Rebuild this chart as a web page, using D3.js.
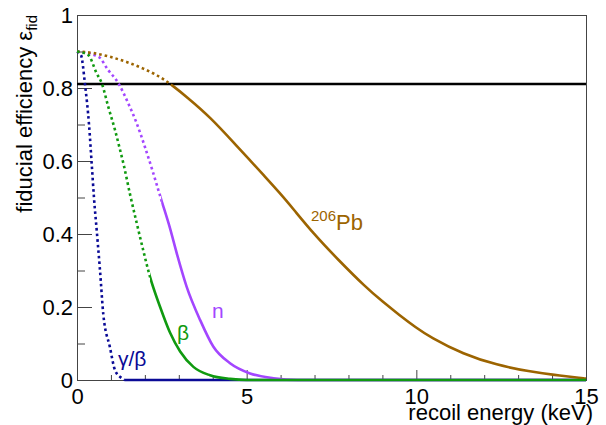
<!DOCTYPE html>
<html>
<head>
<meta charset="utf-8">
<script src="https://cdn.jsdelivr.net/npm/d3@7"></script>
<style>
    body { margin: 0; background: #fff; }
    svg text { font-family: "Liberation Sans", Arial, sans-serif; }
</style>
</head>
<body>
<svg id="chart" width="606" height="425"></svg>
<script>
// data (energy in keV, efficiency)
var gbEnergy = [0, 0.118, 0.236, 0.354, 0.442, 0.50, 0.59, 0.678, 0.775, 0.97, 1.12, 1.32, 1.41, 15];
var gbEff    = [0.9, 0.89, 0.81, 0.70, 0.58, 0.50, 0.40, 0.30, 0.18, 0.09, 0.027, 0.005, 0, 0];
var gbSolidFrom = 1.41;

var betaEnergy = [0, 0.333, 0.58, 0.73, 0.92, 1.12, 1.27, 1.385, 1.56, 1.76, 1.95, 2.15, 2.45, 2.74, 3.04, 3.43, 3.92, 4.51, 5.0, 15];
var betaEff    = [0.9, 0.89, 0.84, 0.813, 0.749, 0.685, 0.63, 0.586, 0.51, 0.43, 0.356, 0.283, 0.20, 0.13, 0.078, 0.036, 0.013, 0.003, 0, 0];
var betaSolidFrom = 2.15;

var nEnergy = [0, 0.628, 0.92, 1.22, 1.51, 1.76, 2.0, 2.22, 2.35, 2.48, 2.74, 2.94, 3.23, 3.63, 4.02, 4.51, 5.10, 5.79, 6.5, 15];
var nEff    = [0.9, 0.886, 0.849, 0.813, 0.758, 0.703, 0.639, 0.575, 0.535, 0.495, 0.416, 0.347, 0.256, 0.164, 0.091, 0.046, 0.018, 0.005, 0, 0];
var nSolidFrom = 2.48;

var pbEnergy = [0, 0.48, 0.97, 1.46, 1.95, 2.45, 2.8, 3.23, 3.92, 4.71, 5.10, 5.49, 5.98, 6.37, 6.96, 7.70, 8.5, 9.0, 9.5, 10.0, 10.4, 11.39, 12.37, 13.35, 14.04, 14.92, 15];
var pbEff    = [0.9, 0.897, 0.886, 0.872, 0.854, 0.831, 0.808, 0.776, 0.721, 0.641, 0.602, 0.562, 0.512, 0.469, 0.402, 0.329, 0.255, 0.215, 0.178, 0.143, 0.118, 0.070, 0.041, 0.023, 0.014, 0.005, 0.004];
var pbSolidFrom = 2.8;

var cutLevel = 0.811;

var xMajorTicks = [0, 5, 10, 15];
var xMinorTicks = [1, 2, 3, 4, 6, 7, 8, 9, 11, 12, 13, 14];
var yMajorTicks = [0, 0.2, 0.4, 0.6, 0.8, 1];
var yTickLabels = ["0", "0.2", "0.4", "0.6", "0.8", "1"];
var yMinorTicks = [0.1, 0.3, 0.5, 0.7, 0.9];

var margin = { top: 15, right: 20, bottom: 45, left: 77 },
    width = 606 - margin.left - margin.right,
    height = 425 - margin.top - margin.bottom;

var x = d3.scaleLinear().domain([0, 15]).range([0, width]);
var y = d3.scaleLinear().domain([0, 1]).range([height, 0]);

var chart = d3.select("#chart");
var defs = chart.append("defs");

var svg = chart.append("g")
    .attr("transform", "translate(" + margin.left + "," + margin.top + ")");

// axes with inward ticks, ROOT style
svg.append("g")
    .attr("transform", "translate(0," + height + ")")
    .call(d3.axisBottom(x).tickValues(xMajorTicks).tickSize(-10).tickPadding(8).tickFormat(d3.format("d")));
svg.append("g")
    .attr("transform", "translate(0," + height + ")")
    .call(d3.axisBottom(x).tickValues(xMinorTicks).tickSize(-5).tickFormat(""));

svg.append("g")
    .call(d3.axisLeft(y).tickValues(yMajorTicks).tickSize(-15).tickPadding(4)
        .tickFormat(function (d, i) { return yTickLabels[i]; }));
svg.append("g")
    .call(d3.axisLeft(y).tickValues(yMinorTicks).tickSize(-8).tickFormat(""));

svg.selectAll(".domain").remove();
svg.selectAll(".tick line").attr("stroke", "#444");
svg.selectAll(".tick text").attr("fill", "#000").style("font-size", "22px");

// frame
svg.append("rect")
    .attr("x", 0.5).attr("y", 0.5)
    .attr("width", width).attr("height", height)
    .attr("fill", "none").attr("stroke", "#444").attr("stroke-width", 1);

// fiducial cut line
svg.append("line")
    .attr("x1", x(0)).attr("x2", x(15))
    .attr("y1", y(cutLevel)).attr("y2", y(cutLevel))
    .attr("stroke", "#000").attr("stroke-width", 2.5);

function makeLine(curve) {
    return d3.line()
        .x(function (d) { return x(d[0]); })
        .y(function (d) { return y(d[1]); })
        .curve(curve);
}

// one smooth path per curve, dotted left of solidFrom and solid right of it
function drawCurve(name, energy, eff, solidFrom, color, curve) {
    var line = makeLine(curve);
    var pts = energy.map(function (e, i) { return [e, eff[i]]; });
    defs.append("clipPath").attr("id", "dot-" + name)
        .append("rect").attr("x", -10).attr("y", -10)
        .attr("width", x(solidFrom) + 10).attr("height", height + 20);
    defs.append("clipPath").attr("id", "sol-" + name)
        .append("rect").attr("x", x(solidFrom)).attr("y", -10)
        .attr("width", width - x(solidFrom) + 10).attr("height", height + 20);
    svg.append("path")
        .attr("d", line(pts))
        .attr("clip-path", "url(#dot-" + name + ")")
        .attr("fill", "none")
        .attr("stroke", color)
        .attr("stroke-width", 2.6)
        .attr("stroke-dasharray", "2.6,3");
    svg.append("path")
        .attr("d", line(pts))
        .attr("clip-path", "url(#sol-" + name + ")")
        .attr("fill", "none")
        .attr("stroke", color)
        .attr("stroke-width", 2.6);
}

var blue = "#0a0a96", purple = "#a346ff", brown = "#9c6400", green = "#109a10";

drawCurve("gb", gbEnergy, gbEff, gbSolidFrom, blue, d3.curveMonotoneX);
drawCurve("n", nEnergy, nEff, nSolidFrom, purple, d3.curveMonotoneX);
drawCurve("pb", pbEnergy, pbEff, pbSolidFrom, brown, d3.curveBasis);
drawCurve("beta", betaEnergy, betaEff, betaSolidFrom, green, d3.curveMonotoneX);

// curve labels
svg.append("text").attr("x", 118 - margin.left).attr("y", 366 - margin.top)
    .attr("fill", blue).style("font-size", "21px").text("γ/β");
svg.append("text").attr("x", 177 - margin.left).attr("y", 340 - margin.top)
    .attr("fill", green).style("font-size", "21px").text("β");
svg.append("text").attr("x", 212 - margin.left).attr("y", 318 - margin.top)
    .attr("fill", purple).style("font-size", "21px").text("n");
var pbLabel = svg.append("text").attr("x", 311 - margin.left).attr("y", 230 - margin.top)
    .attr("fill", brown).style("font-size", "22px");
pbLabel.append("tspan").attr("dy", -9).style("font-size", "15px").text("206");
pbLabel.append("tspan").attr("dy", 9).text("Pb");

// axis titles
chart.append("text")
    .attr("x", 593).attr("y", 420)
    .attr("text-anchor", "end")
    .style("font-size", "22px")
    .text("recoil energy (keV)");

var yTitle = chart.append("text")
    .attr("transform", "translate(32,15) rotate(-90)")
    .attr("text-anchor", "end")
    .style("font-size", "22px");
yTitle.append("tspan").text("fiducial efficiency ε");
yTitle.append("tspan").attr("dy", 5).style("font-size", "15px").text("fid");
</script>
</body>
</html>
